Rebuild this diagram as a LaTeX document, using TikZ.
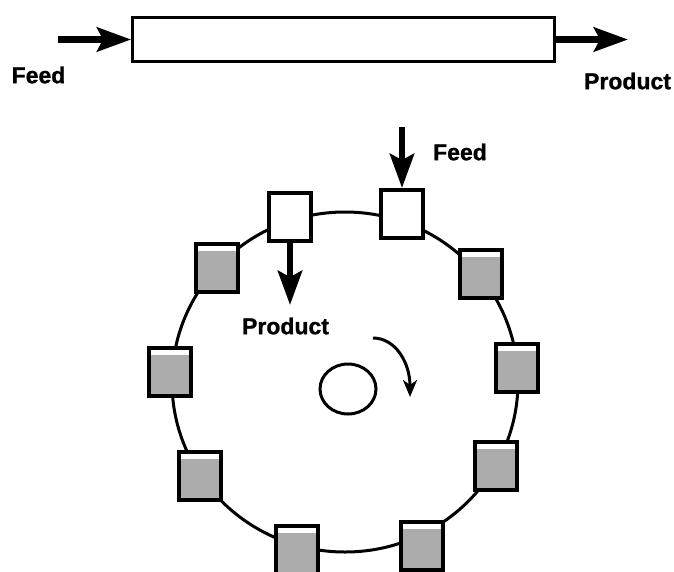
\documentclass[tikz,border=0pt]{standalone}
\usepackage{fontspec}
\setmainfont{Liberation Sans}[BoldFeatures={FakeBold=1}]
\usetikzlibrary{arrows.meta}
\begin{document}
\begin{tikzpicture}[x=1pt,y=-1pt,
  lbl/.style={font=\fontsize{23}{23}\selectfont\bfseries, inner sep=0pt},
  flow/.style={line width=6.5pt, -{Stealth[length=34pt,width=24pt,inset=6pt]}},
  vessel/.style={draw, line width=4pt, minimum width=42pt,
    minimum height=48pt, inner sep=0pt, fill=white},
  tank/.style={vessel, path picture={
    \fill[gray!65] ([yshift=-6.5pt]path picture bounding box.north west)
      rectangle (path picture bounding box.south east);}},
  ring/.style={line width=3pt}]
\useasboundingbox (0,0) rectangle (674,571);
\fill[white] (0,0) rectangle (674,571);

% plug-flow tube with its feed and product streams
\node[draw, line width=2.8pt, minimum width=422pt, minimum height=44pt,
  inner sep=0pt] (tube) at (343.5,39.5) {};
\coordinate (feedsrc) at (58,39.5);
\coordinate (prodout) at (628,39.5);
\draw[flow] (feedsrc) -- (tube.west);
\draw[flow] (tube.east) -- (prodout);
\node[lbl] (lfeedA) at (38.5,75) {Feed};
\node[lbl] (lprodA) at (627.5,81) {Product};

% ring of vessels
\draw[ring] (345,382) ellipse [x radius=173pt, y radius=170pt];
\node[vessel] (takeoff) at (290,217) {};
\node[vessel] (inlet) at (402,214) {};
\node[tank] (t1) at (481,274) {};
\node[tank] (t2) at (517,368) {};
\node[tank] (t3) at (496,466) {};
\node[tank] (t4) at (422,546) {};
\node[tank] (t5) at (297,550) {};
\node[tank] (t6) at (200,476) {};
\node[tank] (t7) at (170,372) {};
\node[tank] (t8) at (217,268) {};

% feed into and product out of the ring
\coordinate (feedtop) at (402,127);
\coordinate (prodtip) at (290,305);
\draw[flow] (feedtop) -- (inlet.north);
\draw[flow] (takeoff.south) -- (prodtip);
\node[lbl] (lfeedB) at (460,152) {Feed};
\node[lbl] (lprodB) at (285.5,326) {Product};

% direction of rotation
\draw[ring] (348,389) ellipse [x radius=28pt, y radius=25pt];
\coordinate (rotA) at (373,338);
\coordinate (rotB) at (410,397);
\draw[ring, -{Stealth[length=17pt,width=14pt,inset=5pt]}]
  (rotA) .. controls (395,338) and (410,362) .. (rotB);
\end{tikzpicture}
\end{document}
